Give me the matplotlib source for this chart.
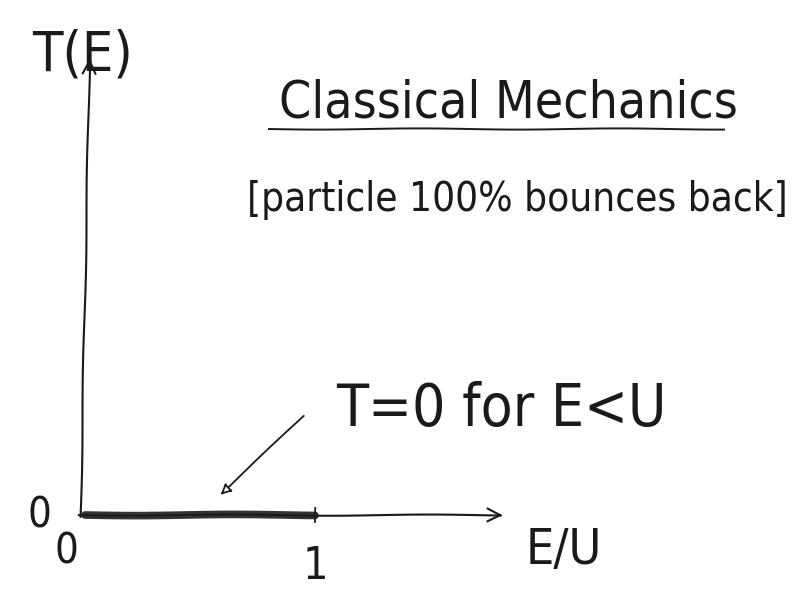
import matplotlib
matplotlib.use("Agg")
import matplotlib.pyplot as plt
import numpy as np

# transmission in the classical picture: zero below the barrier
e_over_u = [0.0, 1.0]
t_classical = [0.0, 0.0]

x_ticks = [1.0]
x_tick_labels = ["1"]

plt.rcParams['font.family'] = ['DejaVu Sans']
plt.rcParams['font.stretch'] = 'condensed'
plt.rcParams['font.weight'] = 'light'
plt.rcParams['path.sketch'] = (0.6, 200.0, 1.0)

fig = plt.figure(figsize=(8.09, 6.03), dpi=100)
ax = fig.add_axes([0, 0, 1, 1])
ax.set_xlim(-0.37, 3.148)
ax.set_ylim(-0.191, 1.12)
ax.axis('off')

ink = '#1a1a1a'

# axes drawn as arrows
ax.annotate('', xy=(0.02, 1.0), xytext=(-0.02, -0.01),
            arrowprops=dict(arrowstyle='->', color=ink, lw=1.5, mutation_scale=24))
ax.annotate('', xy=(1.83, 0.0), xytext=(-0.04, 0.0),
            arrowprops=dict(arrowstyle='->', color=ink, lw=1.5, mutation_scale=24))

# T = 0 segment
ax.plot(e_over_u, t_classical, color='#333333', lw=5.5, solid_capstyle='round')

for xt, lab in zip(x_ticks, x_tick_labels):
    ax.plot([xt, xt], [-0.015, 0.015], color=ink, lw=1.3)
    ax.text(xt, -0.065, lab, fontsize=32, ha='center', va='top', color=ink)

ax.text(-0.2, 0.0, '0', fontsize=30, ha='center', va='center', color=ink)
ax.text(-0.08, -0.08, '0', fontsize=30, ha='center', va='center', color=ink)
ax.text(-0.01, 1.0, 'T(E)', fontsize=40, ha='center', va='center', color=ink)
ax.text(2.08, -0.075, 'E/U', fontsize=36, ha='center', va='center', color=ink)

ax.text(1.84, 0.895, 'Classical Mechanics', fontsize=37, ha='center', va='center',
        color=ink)
ax.plot([0.8, 2.78], [0.84, 0.84], color=ink, lw=1.4)
ax.text(1.88, 0.685, '[particle 100% bounces back]', fontsize=29, ha='center',
        va='center', color=ink)

ax.text(1.81, 0.23, 'T=0 for E<U', fontsize=42, ha='center', va='center', color=ink)
ax.annotate('', xy=(0.58, 0.04), xytext=(0.96, 0.22),
            arrowprops=dict(arrowstyle='-|>', color=ink, lw=1.3, mutation_scale=16,
                            fc='white'))

fig.savefig('out.png', dpi=100)
